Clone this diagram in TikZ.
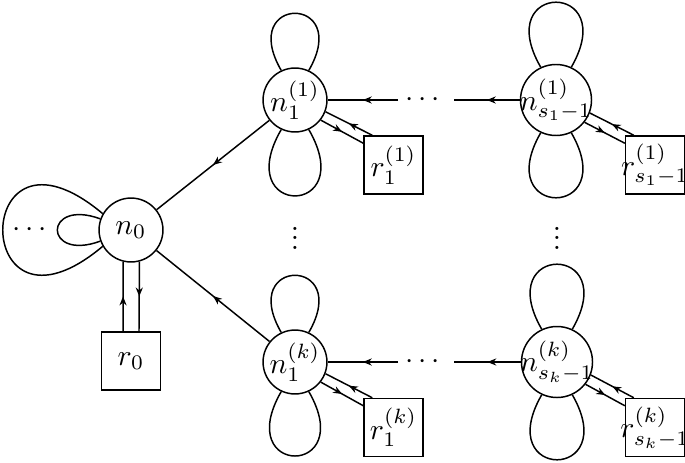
\documentclass[tikz,border=0pt]{standalone}
\usetikzlibrary{calc,decorations.markings,arrows.meta}
\begin{document}
\begin{tikzpicture}[x=0.338pt,y=-0.338pt,
  every path/.style={line width=0.5pt},
  cnode/.style={draw,circle,inner sep=0pt,minimum size=21.6pt},
  bignode/.style={cnode,minimum size=24pt},
  rbox/.style={draw,rectangle,inner sep=0.3pt,minimum width=19.9pt,minimum height=19.6pt},
  vdotsnode/.style={inner sep=0pt},
  midarrow/.style={postaction={decorate},decoration={markings,mark=at position 0.5 with {\arrow{Stealth[length=3pt,width=2.4pt]}}}},
]
\useasboundingbox (0,0) rectangle (685,462);
% nodes
\node[cnode] (n0) at (131,230) {\makebox[0pt]{$n_0$}};
\node[rbox] (r0) at (131,361) {$r_0$};
\node[cnode] (n11) at (295,100) {\makebox[0pt]{$n_1^{(1)}$}};
\node[rbox] (r11) at (393.5,165) {$r_1^{(1)}$};
\node[bignode] (nS1) at (556,100) {\makebox[0pt]{$n_{s_1-1}^{(1)}$}};
\node[rbox] (rS1) at (655,165) {\makebox[0pt]{$r_{s_1-1}^{(1)}$}};
\node[cnode] (n1k) at (295,362) {\makebox[0pt]{$n_1^{(k)}$}};
\node[rbox] (r1k) at (393.5,427.5) {$r_1^{(k)}$};
\node[bignode] (nSk) at (557,362) {\makebox[0pt]{$n_{s_k-1}^{(k)}$}};
\node[rbox] (rSk) at (655,427.5) {\makebox[0pt]{$r_{s_k-1}^{(k)}$}};
% dots
\node (dl) at (30,230) {$\cdots$};
\node (dh1) at (423,100) {$\cdots$};
\node (dhk) at (423,362) {$\cdots$};
\node[vdotsnode] (dv1) at (295,238) {\vbox{\baselineskip=3.2pt\lineskiplimit=0pt\hbox{.}\hbox{.}\hbox{.}}};
\node[vdotsnode] (dvk) at (557,238) {\vbox{\baselineskip=3.2pt\lineskiplimit=0pt\hbox{.}\hbox{.}\hbox{.}}};
\coordinate (a1) at (398,100);
\coordinate (b1) at (454,100);
\coordinate (ak) at (398,362);
\coordinate (bk) at (454,362);
% n0 loops
\draw (n0.150) .. controls +(140:58.8pt) and +(220:58.8pt) .. (n0.210);
\draw (n0.160) .. controls +(160:20.6pt) and +(200:20.6pt) .. (n0.200);
% n0 - r0
\draw[midarrow] ([xshift=-2.7pt]r0.north) -- (n0.-104.5);
\draw[midarrow] (n0.-75.5) -- ([xshift=2.7pt]r0.north);
% diagonals
\draw[midarrow] (n11) -- (n0);
\draw[midarrow] (n1k) -- (n0);
% horizontal chains
\draw[midarrow] (a1) -- (n11);
\draw[midarrow] (nS1) -- (b1);
\draw[midarrow] (ak) -- (n1k);
\draw[midarrow] (nSk) -- (bk);
% petals
\draw (n11.115) .. controls +(120:29.7pt) and +(60:29.7pt) .. (n11.65);
\draw (n11.-115) .. controls +(-120:34.5pt) and +(-60:34.5pt) .. (n11.-65);
\draw (n1k.115) .. controls +(120:29.7pt) and +(60:29.7pt) .. (n1k.65);
\draw (n1k.-115) .. controls +(-120:33.5pt) and +(-60:33.5pt) .. (n1k.-65);
\draw (nS1.115) .. controls +(120:33.8pt) and +(60:33.8pt) .. (nS1.65);
\draw (nS1.-115) .. controls +(-120:33.8pt) and +(-60:33.8pt) .. (nS1.-65);
\draw (nSk.115) .. controls +(120:33.8pt) and +(60:33.8pt) .. (nSk.65);
\draw (nSk.-115) .. controls +(-120:33.8pt) and +(-60:33.8pt) .. (nSk.-65);
% node-box pairs
\draw[midarrow] ($(r11.north west)+(3.04pt,0pt)$) -- (n11.-21);
\draw[midarrow] (n11.-38) -- ($(r11.north west)+(0pt,-2.7pt)$);
\draw[midarrow] ($(rS1.north west)+(3.04pt,0pt)$) -- (nS1.-21);
\draw[midarrow] (nS1.-38) -- ($(rS1.north west)+(0pt,-2.7pt)$);
\draw[midarrow] ($(r1k.north west)+(3.04pt,0pt)$) -- (n1k.-21);
\draw[midarrow] (n1k.-38) -- ($(r1k.north west)+(0pt,-2.7pt)$);
\draw[midarrow] ($(rSk.north west)+(3.04pt,0pt)$) -- (nSk.-21);
\draw[midarrow] (nSk.-38) -- ($(rSk.north west)+(0pt,-2.7pt)$);
\end{tikzpicture}
\end{document}
